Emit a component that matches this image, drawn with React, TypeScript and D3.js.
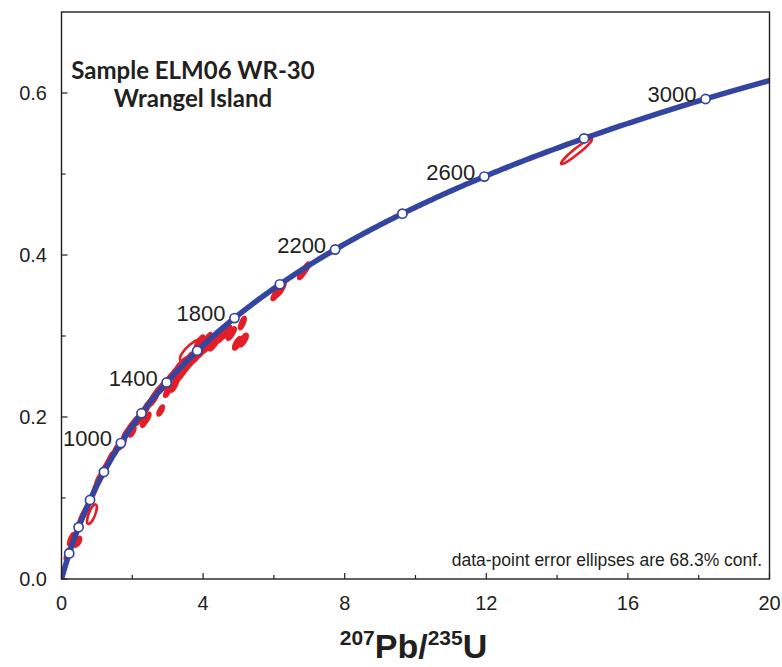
import React from "react";
import * as d3 from "d3";

const W = 782;
const H = 667;

// axis ticks
const xTicksMajor = [0, 4, 8, 12, 16, 20];
const xTicksMinor = [2, 6, 10, 14, 18];
const yTicksMajor = [0, 0.2, 0.4, 0.6];
const yTicksMinor = [0.1, 0.3, 0.5];

// concordia age marks (Ma) and labelled ages
const markerAges = [200, 400, 600, 800, 1000, 1200, 1400, 1600, 1800, 2000, 2200, 2400, 2600, 2800, 3000];
const labelAges = [1000, 1400, 1800, 2200, 2600, 3000];

// decay constants (1/yr)
const LAMBDA238 = 1.55125e-10;
const LAMBDA235 = 9.8485e-10;

// analyses: 207Pb/235U, 1 sigma, 206Pb/238U, 1 sigma, error correlation
const ratio75 = [0.17, 0.28, 0.45, 0.56, 0.65, 0.73, 0.86, 0.93, 0.99, 1.05, 1.19, 1.30, 1.38, 1.55,
  1.84, 1.95, 2.06, 2.15, 2.24, 2.34, 2.43, 2.54, 2.63, 2.34, 2.42, 2.80, 2.00,
  2.71, 2.82, 2.94, 3.05, 3.19, 2.99, 3.19, 3.39, 3.53, 3.67, 3.81, 3.95, 4.10, 4.24, 4.38, 4.52, 4.66, 4.12, 3.90,
  3.74, 3.45, 4.97, 5.14, 5.11, 6.19, 6.06, 6.81, 6.89, 14.55,
  1.72, 2.20, 2.60, 3.30, 4.30, 4.05, 4.80, 3.60];
const sigma75 = [0.05, 0.06, 0.07, 0.07, 0.07, 0.06, 0.09, 0.06, 0.06, 0.06, 0.07, 0.07, 0.06, 0.07,
  0.08, 0.08, 0.08, 0.07, 0.08, 0.08, 0.08, 0.08, 0.08, 0.06, 0.06, 0.06, 0.06,
  0.08, 0.08, 0.08, 0.08, 0.09, 0.06, 0.07, 0.09, 0.09, 0.09, 0.09, 0.09, 0.09, 0.09, 0.09, 0.09, 0.09, 0.08, 0.08,
  0.26, 0.17, 0.08, 0.08, 0.06, 0.09, 0.08, 0.08, 0.08, 0.29,
  0.07, 0.07, 0.08, 0.09, 0.09, 0.08, 0.08, 0.08];
const ratio68 = [0.031, 0.049, 0.046, 0.074, 0.082, 0.089, 0.080, 0.109, 0.116, 0.123, 0.134, 0.142, 0.149, 0.160,
  0.180, 0.187, 0.193, 0.197, 0.201, 0.207, 0.214, 0.220, 0.226, 0.194, 0.199, 0.208, 0.182,
  0.231, 0.236, 0.241, 0.247, 0.254, 0.231, 0.239, 0.254, 0.262, 0.269, 0.275, 0.281, 0.287, 0.291, 0.296, 0.300, 0.305, 0.296, 0.293,
  0.283, 0.264, 0.291, 0.295, 0.316, 0.358, 0.352, 0.378, 0.383, 0.528,
  0.168, 0.198, 0.222, 0.249, 0.290, 0.290, 0.303, 0.272];
const sigma68 = [0.005, 0.005, 0.004, 0.007, 0.006, 0.005, 0.008, 0.006, 0.005, 0.005, 0.005, 0.005, 0.005, 0.005,
  0.005, 0.005, 0.005, 0.005, 0.005, 0.005, 0.005, 0.005, 0.005, 0.004, 0.004, 0.004, 0.004,
  0.005, 0.005, 0.005, 0.005, 0.005, 0.004, 0.005, 0.005, 0.005, 0.005, 0.005, 0.005, 0.005, 0.005, 0.005, 0.005, 0.005, 0.005, 0.005,
  0.0098, 0.0075, 0.005, 0.005, 0.005, 0.006, 0.005, 0.005, 0.005, 0.0104,
  0.005, 0.005, 0.005, 0.005, 0.005, 0.005, 0.005, 0.005];
const rhoXY = [0.7, 0.7, 0.6, 0.85, 0.85, 0.8, 0.7, 0.85, 0.85, 0.8, 0.8, 0.8, 0.8, 0.8,
  0.8, 0.8, 0.8, 0.8, 0.8, 0.8, 0.8, 0.8, 0.8, 0.7, 0.7, 0.7, 0.7,
  0.8, 0.8, 0.8, 0.8, 0.8, 0.7, 0.8, 0.8, 0.8, 0.8, 0.8, 0.8, 0.8, 0.8, 0.8, 0.8, 0.8, 0.8, 0.8,
  0.75, 0.75, 0.7, 0.7, 0.7, 0.8, 0.8, 0.8, 0.8, 0.956,
  0.8, 0.8, 0.8, 0.8, 0.8, 0.8, 0.8, 0.8];

const BLUE = "#3445a0";
const RED = "#e31e26";
const INK = "#231f20";
const NUM_FONT = "'Liberation Sans', Arial, sans-serif";
const TITLE_FONT = "Lato, 'Open Sans', sans-serif";

const left = 61.5, right = 769.5, top = 12, bottom = 579;

export default function App() {
  const x = d3.scaleLinear().domain([0, 20]).range([left, right]);
  const y = d3.scaleLinear().domain([0, 0.7]).range([bottom, top]);

  const conc = (t: number) => [Math.expm1(LAMBDA235 * t * 1e6), Math.expm1(LAMBDA238 * t * 1e6)];
  const curveAges = d3.range(0, 3120, 5);
  const line = d3.line<number>().x((t) => x(conc(t)[0])).y((t) => y(conc(t)[1]));

  const kx = x(1) - x(0);
  const ky = y(0) - y(1);
  const kConf = Math.sqrt(2.2957);
  const ellipses = ratio75.map((r, i) => {
    const a = kx * sigma75[i];
    const b = ky * sigma68[i];
    const vx = a * a, vy = b * b, c = -rhoXY[i] * a * b;
    const tr = (vx + vy) / 2;
    const d = Math.sqrt(((vx - vy) / 2) ** 2 + c * c);
    const l1 = tr + d, l2 = Math.max(tr - d, 0);
    const ang = (0.5 * Math.atan2(2 * c, vx - vy) * 180) / Math.PI;
    return { cx: x(r), cy: y(ratio68[i]), rx: kConf * Math.sqrt(l1), ry: kConf * Math.sqrt(l2), ang };
  });

  return (
    <svg width={W} height={H} style={{ position: "absolute", left: 0, top: 0, background: "#fff" }}>
      <defs>
        <clipPath id="plot">
          <rect x={left} y={top} width={right - left} height={bottom - top} />
        </clipPath>
      </defs>
      {/* ticks */}
      {xTicksMajor.map((t) => (
        <line key={"xm" + t} x1={x(t)} x2={x(t)} y1={bottom} y2={bottom - 6} stroke={INK} strokeWidth={1.2} />
      ))}
      {xTicksMinor.map((t) => (
        <line key={"xn" + t} x1={x(t)} x2={x(t)} y1={bottom} y2={bottom - 4} stroke={INK} strokeWidth={1.2} />
      ))}
      {yTicksMajor.map((t) => (
        <line key={"ym" + t} x1={left} x2={left + 6} y1={y(t)} y2={y(t)} stroke={INK} strokeWidth={1.2} />
      ))}
      {yTicksMinor.map((t) => (
        <line key={"yn" + t} x1={left} x2={left + 4} y1={y(t)} y2={y(t)} stroke={INK} strokeWidth={1.2} />
      ))}
      {/* tick labels */}
      {xTicksMajor.map((t) => (
        <text key={"xl" + t} x={x(t)} y={610} textAnchor="middle" fontFamily={NUM_FONT} fontSize={20} fill={INK}>
          {t}
        </text>
      ))}
      {yTicksMajor.map((t) => (
        <text key={"yl" + t} x={47} y={y(t) + 7} textAnchor="end" fontFamily={NUM_FONT} fontSize={20} fill={INK}>
          {t.toFixed(1)}
        </text>
      ))}
      {/* data ellipses */}
      <g clipPath="url(#plot)">
        {ellipses.map((e, i) => (
          <ellipse
            key={"e" + i}
            transform={`translate(${e.cx},${e.cy}) rotate(${e.ang})`}
            rx={e.rx}
            ry={e.ry}
            fill={e.rx < 9 ? RED : "none"}
            stroke={RED}
            strokeWidth={2.6}
          />
        ))}
        {/* concordia */}
        <path d={line(curveAges) || ""} fill="none" stroke={BLUE} strokeWidth={5.5} strokeLinecap="round" />
        {markerAges.map((t) => {
          const [px, py] = conc(t);
          return <circle key={"m" + t} cx={x(px)} cy={y(py)} r={4.6} fill="#fff" stroke={BLUE} strokeWidth={1.7} />;
        })}
      </g>
      {labelAges.map((t) => {
        const [px, py] = conc(t);
        return (
          <text key={"al" + t} x={x(px) - 9} y={y(py) + 3} textAnchor="end" fontFamily={NUM_FONT} fontSize={22} fill={INK}>
            {t}
          </text>
        );
      })}
      {/* frame */}
      <rect x={left} y={top} width={right - left} height={bottom - top} fill="none" stroke={INK} strokeWidth={1.4} />
      {/* title */}
      <text x={193} y={79} textAnchor="middle" fontFamily={TITLE_FONT} fontWeight="bold" fontSize={24} fill={INK}>
        Sample ELM06 WR-30
      </text>
      <text x={193} y={107} textAnchor="middle" fontFamily={TITLE_FONT} fontWeight="bold" fontSize={24} fill={INK}>
        Wrangel Island
      </text>
      {/* note */}
      <text x={762} y={566} textAnchor="end" fontFamily={NUM_FONT} fontSize={17.5} fill={INK}>
        data-point error ellipses are 68.3% conf.
      </text>
      {/* x axis title */}
      <text x={(left + right) / 2 - 2} y={658} textAnchor="middle" fontFamily={NUM_FONT} fontWeight="bold" fill={INK}>
        <tspan fontSize={21} dy={-13}>207</tspan>
        <tspan fontSize={34} dy={13}>Pb/</tspan>
        <tspan fontSize={21} dy={-13}>235</tspan>
        <tspan fontSize={34} dy={13}>U</tspan>
      </text>
    </svg>
  );
}
